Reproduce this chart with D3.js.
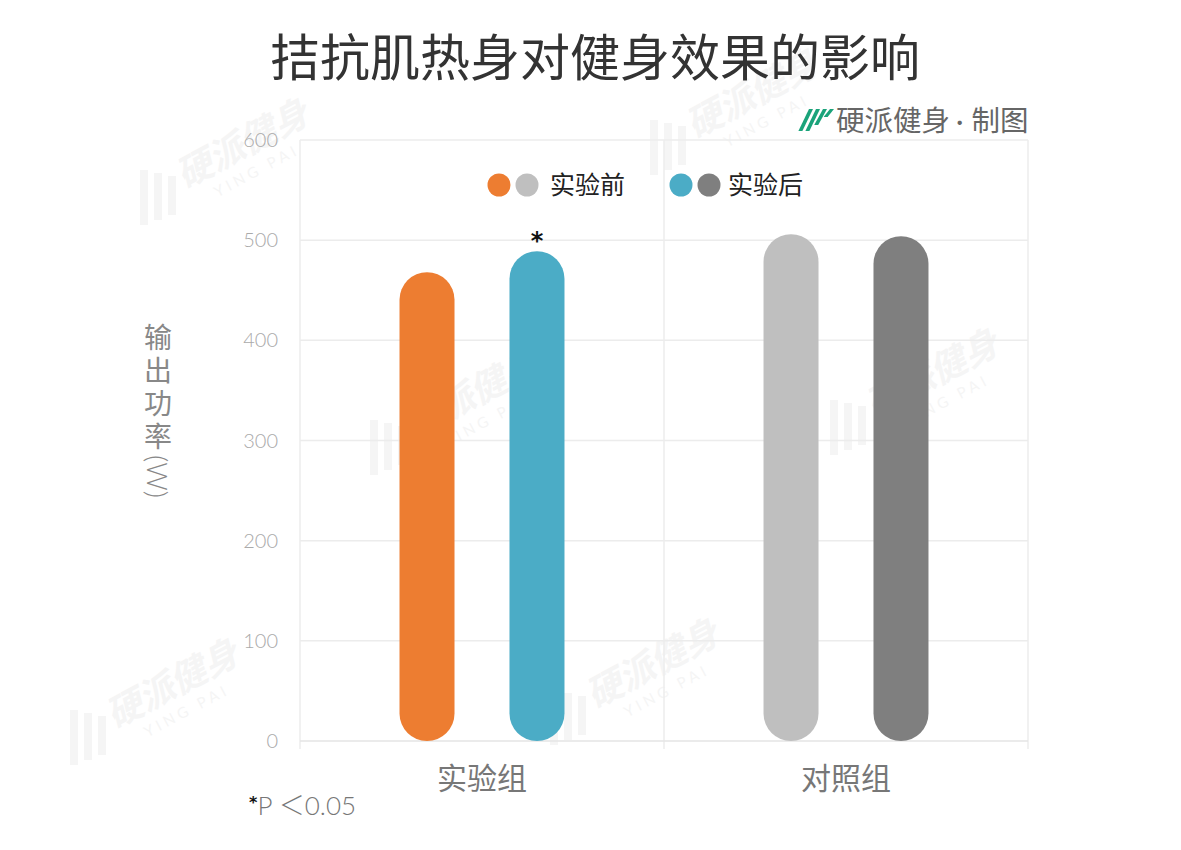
<!DOCTYPE html>
<html><head><meta charset="utf-8">
<script src="https://cdn.jsdelivr.net/npm/d3@7"></script>
<style>
body{margin:0;background:#fff;}
svg{display:block;font-family:"Noto Sans CJK SC","Noto Sans",sans-serif;}
</style></head>
<body><svg id="c" width="1181" height="850"></svg>
<script>
const title = "拮抗肌热身对健身效果的影响";
const categories = ["实验组", "对照组"];
const seriesNames = ["实验前", "实验后"];
const beforeValues = [468, 506];
const afterValues = [489, 504];
const beforeColors = ["#ED7D31", "#BFBFBF"];
const afterColors = ["#4BACC6", "#7F7F7F"];
const yTicks = [0, 100, 200, 300, 400, 500, 600];
const yLabelParts = ["输出功率", "(W)"];
const sigMarks = [["", "*"], ["", ""]];
const footnote = "P ＜0.05";
const creditParts = ["硬派健身", "·", "制图"];
const watermarkSpots = [[180,180],[690,130],[410,430],[870,410],[590,700],[110,720]];

const svg = d3.select("#c");
const M = {left:300, right:1028, top:140, bottom:741};

// faint watermarks
const wm = svg.append("g").attr("fill","#f5f5f5");
watermarkSpots.forEach(([wx,wy])=>{
  const w = wm.append("g").attr("transform",`translate(${wx},${wy})`);
  [0,14,28].forEach((d,i)=>w.append("rect").attr("x",d-40).attr("y",-10+i*3).attr("width",8).attr("height",55-i*8));
  const t = w.append("g").attr("transform","rotate(-28)");
  t.append("text").attr("x",0).attr("y",10).attr("font-size",36).attr("font-style","italic").attr("font-weight","bold").text("硬派健身");
  t.append("text").attr("x",25).attr("y",33).attr("font-size",15).attr("font-family","Lato, sans-serif").attr("letter-spacing",4).text("YING PAI");
});

const x = d3.scaleBand().domain(categories).range([M.left, M.right]);
const sub = d3.scalePoint().domain(seriesNames).range([0, x.bandwidth()]).padding(1.155);
const y = d3.scaleLinear().domain([0, 600]).range([M.bottom, M.top]);

// title
svg.append("text").attr("x", 595).attr("y", 76).attr("text-anchor","middle")
  .attr("font-size", 50).attr("fill","#333").text(title);

// credit
const lg = svg.append("g").attr("transform","translate(803,109)");
[0,7,14,21].forEach((d,i)=>{
  const h = [22,22,16,8][i];
  lg.append("path").attr("d", `M${d+6},0 L${d+10},0 L${d+10-h*0.3-4},${h} L${d+10-h*0.3-8},${h}Z`).attr("fill","#1aa37a");
});
const ct = svg.append("text").attr("x", 836).attr("y", 131).attr("font-size", 28.5).attr("fill","#666");
ct.append("tspan").text(creditParts[0]);
ct.append("tspan").attr("font-family","Lato, sans-serif").attr("dx",6).text(creditParts[1]);
ct.append("tspan").attr("dx",8).text(creditParts[2]);

// grid
const g = svg.append("g");
g.selectAll(".gl").data(yTicks.filter(d=>d>0)).join("line")
  .attr("x1", M.left).attr("x2", M.right).attr("y1", d=>y(d)).attr("y2", d=>y(d))
  .attr("stroke","#ececec").attr("stroke-width",1.5);
const bounds = [M.left, M.left + x.bandwidth(), M.right];
g.selectAll(".vl").data(bounds).join("line")
  .attr("x1", d=>d).attr("x2", d=>d).attr("y1", M.top).attr("y2", M.bottom+8)
  .attr("stroke","#ececec").attr("stroke-width",1.5);
g.append("line").attr("x1", M.left).attr("x2", M.right).attr("y1", M.bottom).attr("y2", M.bottom)
  .attr("stroke","#e4e4e4").attr("stroke-width",1.5);

// y tick labels
svg.append("g").selectAll("text").data(yTicks).join("text")
  .attr("x", 278).attr("y", d=>y(d)+7).attr("text-anchor","end")
  .attr("font-family","Lato, sans-serif").attr("font-weight",300)
  .attr("font-size", 20).attr("fill","#aaa").text(d=>d);

// x labels
svg.append("g").selectAll("text").data(categories).join("text")
  .attr("x", d=>x(d)+x.bandwidth()/2).attr("y", 789).attr("text-anchor","middle")
  .attr("font-size", 30).attr("fill","#777").text(d=>d);

// y label vertical
const yl = svg.append("text").attr("x", 158).attr("y", 323)
  .attr("style","writing-mode:vertical-rl;").attr("font-size", 28).attr("fill","#888");
yl.append("tspan").attr("letter-spacing", 5).text(yLabelParts[0]);
yl.append("tspan").attr("font-family","Lato, 'Noto Sans CJK SC', sans-serif").attr("font-weight",300).text(yLabelParts[1]);

// bars
const bw = 55;
const rows = categories.map((c,i)=>[
  {cat:c, s:seriesNames[0], v:beforeValues[i], col:beforeColors[i], sig:sigMarks[i][0]},
  {cat:c, s:seriesNames[1], v:afterValues[i], col:afterColors[i], sig:sigMarks[i][1]}
]).flat();
svg.append("g").selectAll("rect").data(rows).join("rect")
  .attr("x", d=>x(d.cat)+sub(d.s)-bw/2).attr("width", bw)
  .attr("y", d=>y(d.v)).attr("height", d=>y(0)-y(d.v))
  .attr("rx", bw/2).attr("ry", bw/2).attr("fill", d=>d.col);
svg.append("g").selectAll("text").data(rows.filter(d=>d.sig)).join("text")
  .attr("x", d=>x(d.cat)+sub(d.s)).attr("y", d=>y(d.v)-2).attr("text-anchor","middle")
  .attr("font-family","DejaVu Sans, sans-serif").attr("font-weight","bold")
  .attr("font-size", 24).attr("fill","#111").text(d=>d.sig);

// legend
const leg = svg.append("g");
const legItems = [
  {name:seriesNames[0], cols:[beforeColors[0], beforeColors[1]], x:499, tx:550},
  {name:seriesNames[1], cols:[afterColors[0], afterColors[1]], x:681, tx:728}
];
legItems.forEach(it=>{
  it.cols.forEach((c,j)=>leg.append("circle").attr("cx", it.x + j*28).attr("cy", 185).attr("r", 11.5).attr("fill", c));
  leg.append("text").attr("x", it.tx).attr("y", 194).attr("font-size", 25).attr("fill","#222").text(it.name);
});

// footnote
const fn = svg.append("text").attr("x", 249).attr("y", 815).attr("font-size", 26);
fn.append("tspan").attr("fill","#111").attr("font-family","DejaVu Sans, sans-serif").attr("font-weight","bold").attr("font-size",16).attr("dy",-7).text("*");
fn.append("tspan").attr("fill","#777").attr("dy",7).attr("font-family","Lato, 'Noto Sans CJK SC', sans-serif").attr("font-weight",300).text(footnote);
</script></body></html>
